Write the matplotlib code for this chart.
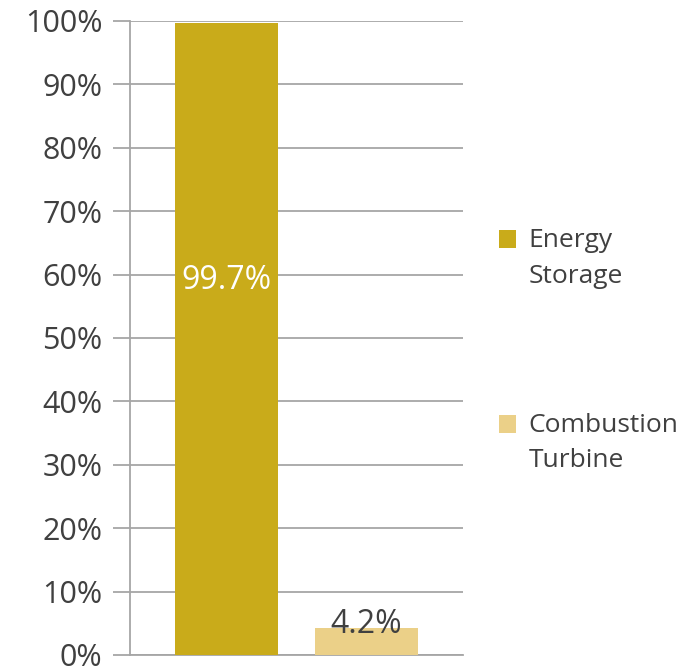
import matplotlib.pyplot as plt
from matplotlib.ticker import MultipleLocator, PercentFormatter

plt.rcParams['font.family'] = ['Open Sans', 'DejaVu Sans']

series = ["Energy\nStorage", "Combustion\nTurbine"]
values = [99.7, 4.2]
colors = ['#C9AB1A', '#EBD088']
label_colors = ['white', '#404040']

text_color = '#404040'
grid_color = '#A6A6A6'

fig = plt.figure(figsize=(6.88, 6.70), dpi=100)
ax = fig.add_axes([0.189, 0.0224, 0.484, 0.9463])

for i, (name, val, col) in enumerate(zip(series, values, colors)):
    ax.bar(i, val, width=0.736, color=col, label=name, zorder=3)

# value labels: first one sits inside the bar, second just over its top
ax.text(0, values[0] * 0.593, f"{values[0]:.1f}%", ha='center', va='center',
        color=label_colors[0], fontsize=23, zorder=4)
ax.text(1, values[1] + 0.6, f"{values[1]:.1f}%", ha='center', va='center',
        color=label_colors[1], fontsize=23, zorder=4)

ax.set_xlim(-0.689, 1.689)
ax.set_ylim(0, 100)
ax.yaxis.set_major_locator(MultipleLocator(10))
ax.yaxis.set_major_formatter(PercentFormatter(decimals=0))
ax.set_xticks([])

ax.grid(axis='y', color=grid_color, linewidth=1.3, zorder=0)
ax.tick_params(axis='y', length=12, width=1.3, color=grid_color,
               labelsize=22, labelcolor=text_color, pad=8)
for lbl in ax.get_yticklabels():
    lbl.set_verticalalignment('center_baseline')
for side in ['top', 'right']:
    ax.spines[side].set_visible(False)
for side in ['left', 'bottom']:
    ax.spines[side].set_color(grid_color)
    ax.spines[side].set_linewidth(1.3)

leg = ax.legend(loc='upper left', bbox_to_anchor=(1.075, 0.69), frameon=False,
                fontsize=19, labelcolor=text_color, handlelength=0.68,
                handleheight=0.68, handletextpad=0.45, labelspacing=4.7,
                borderaxespad=0)
for t in leg.get_texts():
    t.set_linespacing(1.55)
# keep each square level with the first line of its label
for h in leg.legend_handles:
    h.set_y(h.get_y() + 14)

fig.savefig('out.png', dpi=100)
